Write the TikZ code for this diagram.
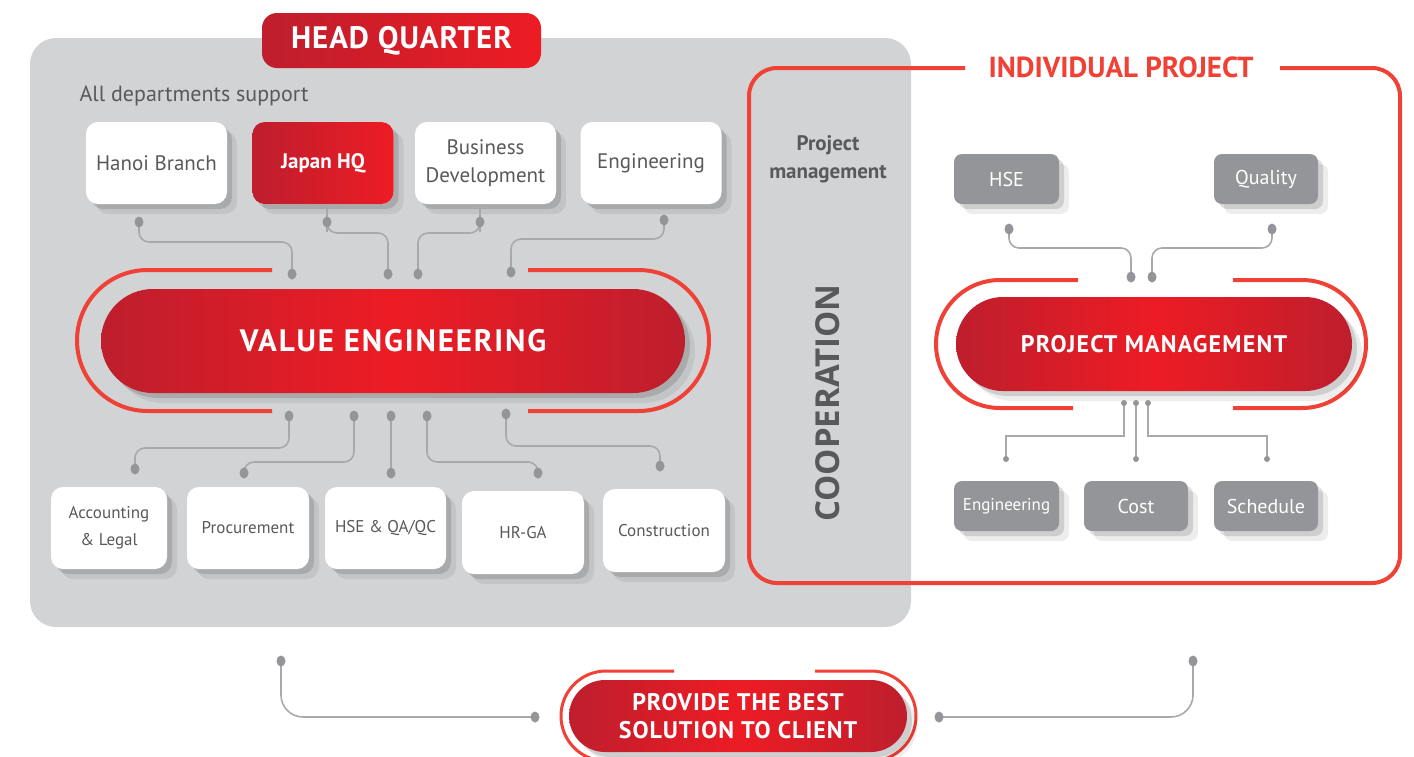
\documentclass[tikz,border=0pt]{standalone}
\usepackage{fontspec}
\setmainfont{PT Sans}
\newfontfamily\coopfont{Open Sans}
\usetikzlibrary{shadows}

\definecolor{hqgray}{HTML}{D1D3D4}
\definecolor{txtgray}{HTML}{58595B}
\definecolor{wiregray}{HTML}{A7A9AC}
\definecolor{boxgray}{HTML}{939598}
\definecolor{darkred}{HTML}{BE1E2D}
\definecolor{brightred}{HTML}{ED1C24}
\definecolor{ringred}{HTML}{EF4136}

\tikzset{
  softshadow/.style={drop shadow={shadow xshift=10pt,shadow yshift=-10pt,opacity=.07,fill=black},
    drop shadow={shadow xshift=5pt,shadow yshift=-5pt,opacity=.13,fill=black}},
  wbox/.style={fill=white,rounded corners=12pt,minimum width=141pt,minimum height=82pt,
    inner sep=2pt,align=center,text=txtgray,font=\fontsize{21}{28}\selectfont,softshadow},
  lowbox/.style={wbox,minimum width=121pt,font=\fontsize{17}{27}\selectfont},
  rbox/.style={wbox,left color=darkred,right color=brightred,text=white,
    font=\bfseries\fontsize{21}{28}\selectfont},
  gbox/.style={fill=boxgray,rounded corners=8pt,minimum width=105pt,minimum height=50pt,
    inner sep=1pt,text=white,font=\fontsize{20}{24}\selectfont,softshadow},
  redpill/.style={left color=darkred,right color=darkred,middle color=brightred,
    text=white,align=center,softshadow},
  ring/.style={draw=ringred,line width=4pt,rounded corners=#1},
  wire/.style={draw=wiregray,line width=1.6pt,rounded corners=10pt},
  thinwire/.style={draw=wiregray,line width=1.3pt},
  dot/.style={fill=boxgray}
}

\begin{document}
\begin{tikzpicture}[x=1pt,y=-1pt]
\useasboundingbox (0,0) rectangle (1414,756);
\clip (0,0) rectangle (1414,756);

% head quarter panel
\fill[hqgray,rounded corners=26pt] (30,38) rectangle (911,627);
\node[left color=darkred,right color=brightred,rounded corners=15pt,minimum width=279pt,
  minimum height=55pt,text=white,font=\bfseries\fontsize{31}{36}\selectfont\addfontfeature{LetterSpace=3}]
  (hq) at (401.5,40.5) {HEAD QUARTER};
\node[anchor=west,text=txtgray,font=\fontsize{22}{26}\selectfont] (alldep) at (76,96) {All departments support};

\node[wbox] (hanoi) at (156.5,163) {Hanoi Branch};
\node[rbox] (japan) at (323,163) {Japan HQ};
\node[wbox] (busdev) at (485.5,163) {Business\\Development};
\node[wbox] (eng) at (651,163) {Engineering};

\draw[ring=70.5pt] (272,270) -- (77,270) -- (77,411) -- (272,411);
\draw[ring=70.5pt] (528,270) -- (709,270) -- (709,411) -- (528,411);
\node[redpill,rounded corners=52pt,minimum width=584pt,minimum height=104pt,
  font=\bfseries\fontsize{31}{36}\selectfont\addfontfeature{LetterSpace=6}]
  (ve) at (393,341) {VALUE ENGINEERING};

\node[lowbox,minimum width=116pt] (acc) at (109,528) {Accounting\\\& Legal};
\node[lowbox,minimum width=122pt] (proc) at (248,528) {Procurement};
\node[lowbox] (hseqa) at (385.5,528) {HSE \& QA/QC};
\node[lowbox,minimum width=122pt,minimum height=83pt] (hrga) at (523,532.5) {HR-GA};
\node[lowbox,minimum width=122pt,minimum height=83pt] (cons) at (664,530.5) {Construction};

\coordinate (hanoi-d) at (139,222);
\coordinate (japan-d) at (327,222);
\coordinate (busdev-d) at (480,222);
\coordinate (eng-d) at (664,220);
\coordinate (ve-t1) at (292,274);
\coordinate (ve-t2) at (388,274);
\coordinate (ve-t3) at (418,274);
\coordinate (ve-t4) at (511,272);
\coordinate (ve-b1) at (289,416);
\coordinate (ve-b2) at (354,416);
\coordinate (ve-b3) at (391,416);
\coordinate (ve-b4) at (427,416);
\coordinate (ve-b5) at (506,414);
\coordinate (acc-d) at (135,469);
\coordinate (proc-d) at (244,473);
\coordinate (hseqa-d) at (391,473);
\coordinate (hrga-d) at (538,473);
\coordinate (cons-d) at (660,466);

\draw[wire] (hanoi-d) -- ++(0,20) -| (ve-t1);
\draw[wire] (japan.south -| japan-d) -- (japan-d) -- ++(0,11) -| (ve-t2);
\draw[wire] (busdev.south -| busdev-d) -- (busdev-d) -- ++(0,11) -| (ve-t3);
\draw[wire] (eng-d) -- ++(0,19) -| (ve-t4);
\draw[wire] (ve-b1) -- ++(0,32) -| (acc-d);
\draw[wire] (ve-b2) -- ++(0,46) -| (proc-d);
\draw[wire] (ve-b3) -- (hseqa-d);
\draw[wire] (ve-b4) -- ++(0,46) -| (hrga-d);
\draw[wire] (ve-b5) -- ++(0,32) -| (cons-d);

\foreach \p in {hanoi-d,japan-d,busdev-d,eng-d,ve-t1,ve-t2,ve-t3,ve-t4,
  ve-b1,ve-b2,ve-b3,ve-b4,ve-b5,acc-d,proc-d,hseqa-d,hrga-d,cons-d}
  \fill[dot] (\p) ellipse (4.5 and 5.5);

% individual project
\draw[ring=28pt] (965,68) -- (749,68) -- (749,583) -- (1400,583) -- (1400,68) -- (1280,68);
\node[text=ringred,font=\bfseries\fontsize{29}{34}\selectfont] (ip) at (1121,67) {INDIVIDUAL PROJECT};
\node[text=txtgray,align=center,font=\bfseries\fontsize{21}{28}\selectfont] (pmtitle) at (828,159) {Project\\management};
\node[rotate=90,text=txtgray,font=\coopfont\bfseries\fontsize{33}{40}\selectfont] (coop) at (828,403) {COOPERATION};

\node[gbox] (hse) at (1006.5,179) {HSE};
\node[gbox,minimum width=104pt] (quality) at (1266,179) {Quality};

\draw[ring=64pt] (1078,280) -- (936,280) -- (936,408) -- (1073,408);
\draw[ring=64pt] (1233,280) -- (1366,280) -- (1366,408) -- (1233,408);
\node[redpill,rounded corners=47pt,minimum width=396pt,minimum height=94pt,
  font=\bfseries\fontsize{24}{28}\selectfont\addfontfeature{LetterSpace=5}]
  (pm) at (1154,344) {PROJECT MANAGEMENT};

\node[gbox,font=\fontsize{17}{20}\selectfont] (peng) at (1006.5,506) {Engineering};
\node[gbox,minimum width=104pt] (cost) at (1136,506) {Cost};
\node[gbox,minimum width=104pt] (sched) at (1266,506) {Schedule};

\coordinate (hse-d) at (1009,229);
\coordinate (quality-d) at (1272,229);
\coordinate (pm-t1) at (1131,277);
\coordinate (pm-t2) at (1152,277);
\coordinate (pm-b1) at (1124,403);
\coordinate (pm-b2) at (1136,403);
\coordinate (pm-b3) at (1148,403);
\coordinate (peng-d) at (1006,459);
\coordinate (cost-d) at (1136,459);
\coordinate (sched-d) at (1267,459);

\draw[wire] (hse-d) -- ++(0,19) -| (pm-t1);
\draw[wire] (quality-d) -- ++(0,19) -| (pm-t2);
\draw[thinwire] (pm-b1) -- ++(0,33) -| (peng-d);
\draw[thinwire] (pm-b2) -- (cost-d);
\draw[thinwire] (pm-b3) -- ++(0,33) -| (sched-d);

\foreach \p in {hse-d,quality-d,pm-t1,pm-t2}
  \fill[dot] (\p) ellipse (4.5 and 5.5);
\foreach \p in {pm-b1,pm-b2,pm-b3,peng-d,cost-d,sched-d}
  \fill[dot] (\p) circle (3);

% client
\coordinate (hq-d) at (281,661);
\coordinate (sol-l) at (535,717);
\coordinate (sol-r) at (939,717);
\coordinate (ip-d) at (1193,661);
\draw[wire,rounded corners=22pt] (hq-d) |- (sol-l);
\draw[wire,rounded corners=22pt] (sol-r) -| (ip-d);
\foreach \p in {hq-d,sol-l,sol-r,ip-d}
  \fill[dot] (\p) ellipse (4.5 and 5.5);

\draw[ring=45pt,line width=3pt] (674,671) -- (561,671) -- (561,761) -- (674,761);
\draw[ring=45pt,line width=3pt] (815,671) -- (916,671) -- (916,761) -- (815,761);
\node[redpill,rounded corners=36pt,minimum width=338pt,minimum height=72pt,
  font=\bfseries\fontsize{24}{28}\selectfont\addfontfeature{LetterSpace=4}]
  (sol) at (738,716) {PROVIDE THE BEST\\SOLUTION TO CLIENT};
\end{tikzpicture}
\end{document}
